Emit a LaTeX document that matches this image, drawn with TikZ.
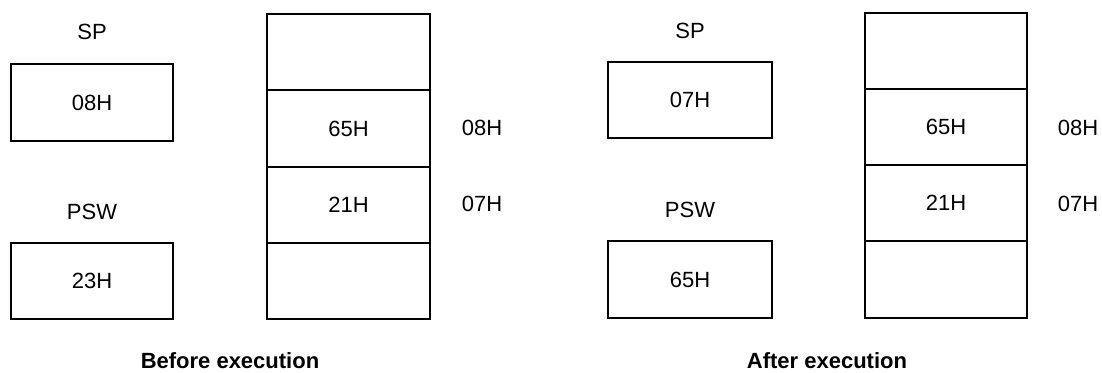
\documentclass[tikz,border=0pt]{standalone}
\usepackage{fontspec}
\setmainfont{Liberation Sans}
\begin{document}
\begin{tikzpicture}[x=1pt,y=-1pt,
  every node/.style={font=\fontsize{22}{26}\selectfont, inner sep=0pt},
  cell/.style={draw, line width=1.5pt, minimum width=#1, anchor=center},
  lbl/.style={anchor=center},
  captiontext/.style={anchor=center, font=\fontsize{22}{26}\selectfont\bfseries}]
\useasboundingbox (0,0) rectangle (1102,372);
% ---------- Before execution ----------
\node[lbl] (spL) at (92,32) {SP};
\node[cell=162pt, minimum height=77pt] (spboxL) at (92,102.5) {08H};
\node[lbl] (pswL) at (92,212) {PSW};
\node[cell=162pt, minimum height=76pt] (pswboxL) at (92,281) {23H};
\node[cell=163pt, minimum height=76pt] (sL1) at (348.5,52) {};
\node[cell=163pt, minimum height=77pt] (sL2) at (348.5,128.5) {65H};
\node[cell=163pt, minimum height=76pt] (sL3) at (348.5,205) {21H};
\node[cell=163pt, minimum height=76pt] (sL4) at (348.5,281) {};
\node[lbl] (aL8) at (482,128) {08H};
\node[lbl] (aL7) at (482,204) {07H};
\node[captiontext] (capL) at (230,361) {Before execution};
% ---------- After execution ----------
\node[lbl] (spR) at (690,31) {SP};
\node[cell=164pt, minimum height=76pt] (spboxR) at (690,100) {07H};
\node[lbl] (pswR) at (690,210) {PSW};
\node[cell=164pt, minimum height=77pt] (pswboxR) at (690,279.5) {65H};
\node[cell=162pt, minimum height=76pt] (sR1) at (946,51) {};
\node[cell=162pt, minimum height=76pt] (sR2) at (946,127) {65H};
\node[cell=162pt, minimum height=76pt] (sR3) at (946,203) {21H};
\node[cell=162pt, minimum height=77pt] (sR4) at (946,279.5) {};
\node[lbl] (aR8) at (1078,128) {08H};
\node[lbl] (aR7) at (1078,204) {07H};
\node[captiontext] (capR) at (827,361) {After execution};
\end{tikzpicture}
\end{document}
